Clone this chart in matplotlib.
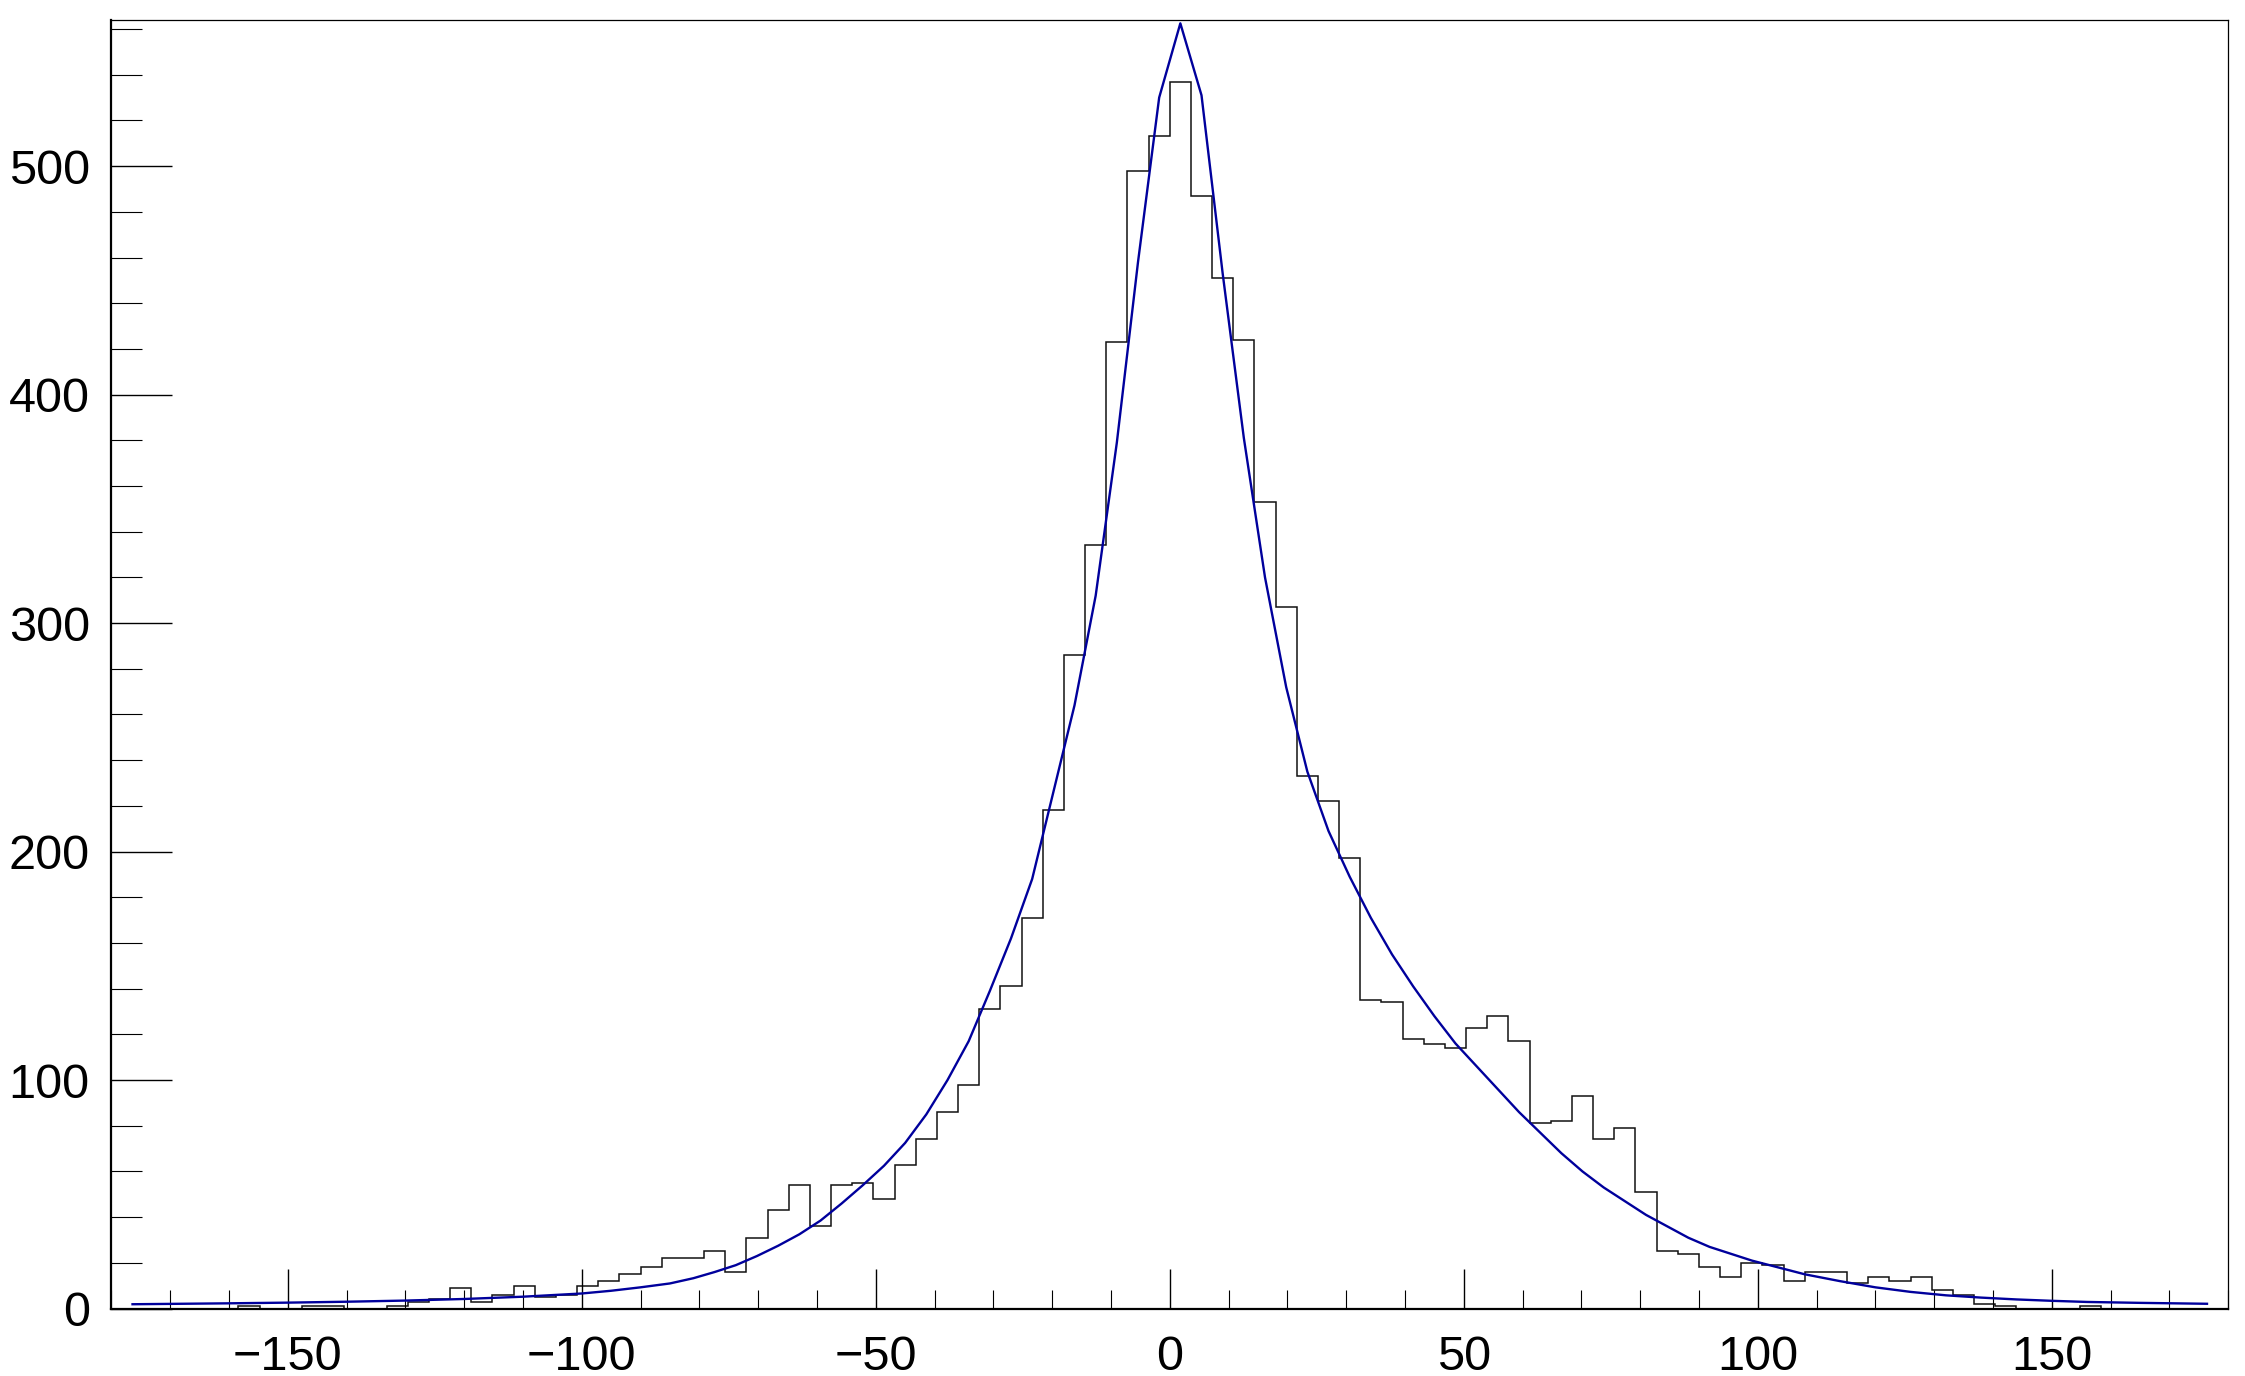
import numpy as np
import matplotlib
matplotlib.use("Agg")
import matplotlib.pyplot as plt
from matplotlib.ticker import MultipleLocator

# histogram: 100 bins of width 3.6 between -180 and 180
x_min, x_max, n_bins = -180.0, 180.0, 100
counts = [
    0, 0, 0, 0, 0, 0, 1, 0, 0, 1,
    1, 0, 0, 1, 3, 4, 9, 3, 6, 10,
    5, 6, 10, 12, 15, 18, 22, 22, 25, 16,
    31, 43, 54, 36, 54, 55, 48, 63, 74, 86,
    98, 131, 141, 171, 218, 286, 334, 423, 498, 513,
    537, 487, 451, 424, 353, 307, 233, 222, 197, 135,
    134, 118, 116, 114, 123, 128, 117, 81, 82, 93,
    74, 79, 51, 25, 24, 18, 14, 20, 19, 12,
    16, 16, 11, 14, 12, 14, 8, 6, 2, 1,
    0, 0, 0, 1, 0, 0, 0, 0, 0, 0,
]

# fitted curve
fit_x = [-176.4, -160, -150, -140, -130, -120, -110, -100, -95, -90,
         -85, -81.0, -77.4, -73.8, -70.2, -66.6, -63.0, -59.4, -55.8, -52.2,
         -48.6, -45.0, -41.4, -37.8, -34.2, -30.6, -27.0, -23.4, -19.8, -16.2,
         -12.6, -9.0, -5.4, -1.8, 1.8, 5.4, 9.0, 12.6, 16.2, 19.8,
         23.4, 27.0, 30.6, 34.2, 37.8, 41.4, 45.0, 48.6, 52.2, 55.8,
         59.4, 63.0, 66.6, 70.2, 73.8, 77.4, 81.0, 84.6, 88.2, 91.8,
         95.4, 99.0, 108, 114, 120, 126, 132, 138, 144, 150,
         156, 165, 176.4]
fit_y = [1.9, 2.3, 2.6, 3.0, 3.5, 4.2, 5.2, 6.6, 7.8, 9.3,
         11.0, 13.3, 16.0, 19.0, 23.0, 27.5, 32.5, 38.5, 46.0, 54.0,
         62.5, 72.5, 85.0, 100.0, 117.0, 139.0, 162.0, 188.0, 226.0, 264.0,
         312.0, 379.0, 458.0, 530.0, 562.5, 531.0, 453.0, 381.0, 320.0, 272.0,
         235.0, 209.0, 189.0, 171.0, 155.0, 141.0, 128.0, 116.0, 106.0, 96.0,
         86.0, 77.0, 68.0, 60.0, 53.0, 47.0, 41.0, 36.0, 31.0, 27.0,
         24.0, 21.0, 15.0, 12.0, 9.3, 7.3, 5.8, 4.8, 4.0, 3.4,
         2.9, 2.5, 2.1]

edges = np.linspace(x_min, x_max, n_bins + 1)

plt.rcParams['font.family'] = ['Liberation Sans', 'DejaVu Sans']

fig = plt.figure(figsize=(22.45, 13.76), dpi=100)
ax = fig.add_axes([0.0496, 0.0490, 0.9429, 0.9363])

ax.stairs(counts, edges, color='#111111', linewidth=1.1, baseline=0)
ax.plot(fit_x, fit_y, color='#00009c', linewidth=1.7)

ax.set_xlim(x_min, x_max)
ax.set_ylim(0, max(counts) * 1.05)

ax.xaxis.set_major_locator(MultipleLocator(50))
ax.xaxis.set_minor_locator(MultipleLocator(10))
ax.yaxis.set_major_locator(MultipleLocator(100))
ax.yaxis.set_minor_locator(MultipleLocator(20))

ax.tick_params(axis='x', which='major', direction='in', length=29, width=1.0,
               pad=19, labelsize=35, top=False)
ax.tick_params(axis='x', which='minor', direction='in', length=14, width=0.8, top=False)
ax.tick_params(axis='y', which='major', direction='in', length=44, width=1.0,
               pad=15.5, labelsize=35, right=False)
ax.tick_params(axis='y', which='minor', direction='in', length=22, width=0.8, right=False)

for side in ['left', 'bottom']:
    ax.spines[side].set_linewidth(1.6)
for side in ['top', 'right']:
    ax.spines[side].set_linewidth(0.9)

fig.savefig('out.png', dpi=100)
